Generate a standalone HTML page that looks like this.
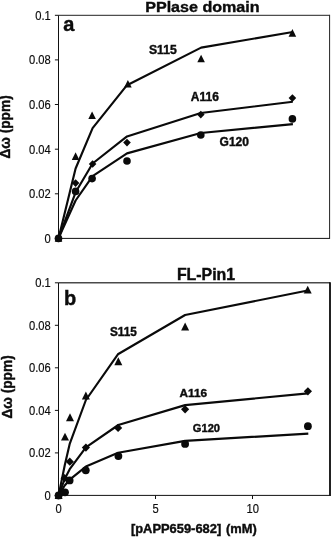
<!DOCTYPE html>
<html><head><meta charset="utf-8"><title>Chart</title>
<style>
html,body{margin:0;padding:0;background:#fff;}
body{width:331px;height:537px;overflow:hidden;font-family:"Liberation Sans",sans-serif;}
svg{display:block;font-family:"Liberation Sans",sans-serif;will-change:transform;}
svg text{fill:#0c0c0c;}
.r{stroke:#0c0c0c;stroke-width:0.15;}
.b{font-weight:bold;stroke:#0c0c0c;stroke-width:0.4;}
.ln polyline{fill:none;stroke:#0a0a0a;stroke-width:2.15;stroke-linejoin:round;stroke-linecap:butt;}
.mk{fill:#0a0a0a;}
</style></head><body>
<svg width="331" height="537" viewBox="0 0 331 537">
<rect width="331" height="537" fill="#fff"/>
<!-- panel a -->
<path d="M58.5,15.3 H329.6" fill="none" stroke="#222" stroke-width="1.0"/>
<path d="M329.6,14.8 V238.9" fill="none" stroke="#222" stroke-width="1.0"/>
<path d="M58.5,15.3 V238.4 H329.6" fill="none" stroke="#111" stroke-width="1"/>
<line x1="54.9" y1="238.4" x2="58.5" y2="238.4" stroke="#111" stroke-width="1"/>
<text class="r" transform="translate(50.8,242.7) scale(1.0,1.08)" text-anchor="end" font-size="11.2">0</text>
<line x1="54.9" y1="193.8" x2="58.5" y2="193.8" stroke="#111" stroke-width="1"/>
<text class="r" transform="translate(50.8,198.1) scale(1.0,1.08)" text-anchor="end" font-size="11.2">0.02</text>
<line x1="54.9" y1="149.2" x2="58.5" y2="149.2" stroke="#111" stroke-width="1"/>
<text class="r" transform="translate(50.8,153.5) scale(1.0,1.08)" text-anchor="end" font-size="11.2">0.04</text>
<line x1="54.9" y1="104.5" x2="58.5" y2="104.5" stroke="#111" stroke-width="1"/>
<text class="r" transform="translate(50.8,108.8) scale(1.0,1.08)" text-anchor="end" font-size="11.2">0.06</text>
<line x1="54.9" y1="59.9" x2="58.5" y2="59.9" stroke="#111" stroke-width="1"/>
<text class="r" transform="translate(50.8,64.2) scale(1.0,1.08)" text-anchor="end" font-size="11.2">0.08</text>
<line x1="54.9" y1="15.3" x2="58.5" y2="15.3" stroke="#111" stroke-width="1"/>
<text class="r" transform="translate(50.8,19.6) scale(1.0,1.08)" text-anchor="end" font-size="11.2">0.1</text>
<text class="b" transform="translate(259.6,11.6) scale(1.0,0.96)" text-anchor="end" font-size="16.1">PPlase domain</text>
<text class="b" transform="translate(63.3,30.6) scale(1.0,0.97)" font-size="20">a</text>
<text class="b" transform="translate(10.0,126.9) rotate(-90) scale(1.0,1.09)" text-anchor="middle" font-size="13.7">Δω (ppm)</text>
<g class="ln"><polyline points="58.5,238.4 75.6,168.5 92.6,128.2 127.0,85.2 201.1,47.6 292.8,32.0"/><polyline points="58.5,238.4 75.6,192.3 92.6,163.5 127.0,136.4 200.8,113.0 292.8,101.7"/><polyline points="58.5,238.4 75.6,200.5 92.6,176.1 127.0,153.4 200.8,133.0 292.9,124.1"/></g>
<g class="mk"><polygon points="58.5,234.2 62.3,241.8 54.7,241.8"/><polygon points="75.6,152.3 79.4,159.9 71.8,159.9"/><polygon points="92.1,111.4 95.9,119.0 88.3,119.0"/><polygon points="127.9,80.0 131.7,87.6 124.1,87.6"/><polygon points="201.1,54.7 204.9,62.3 197.3,62.3"/><polygon points="292.4,29.1 296.2,36.7 288.6,36.7"/><polygon points="58.5,234.6 62.3,238.4 58.5,242.2 54.7,238.4"/><polygon points="75.6,179.3 79.4,183.1 75.6,186.9 71.8,183.1"/><polygon points="92.6,160.2 96.4,164.0 92.6,167.8 88.8,164.0"/><polygon points="127.0,138.8 130.8,142.6 127.0,146.4 123.2,142.6"/><polygon points="200.8,110.8 204.6,114.6 200.8,118.4 197.0,114.6"/><polygon points="292.4,94.3 296.2,98.1 292.4,101.9 288.6,98.1"/><circle cx="58.5" cy="238.4" r="3.8"/><circle cx="75.6" cy="191.4" r="3.8"/><circle cx="92.1" cy="178.6" r="3.8"/><circle cx="127.0" cy="161.0" r="3.8"/><circle cx="200.8" cy="135.0" r="3.8"/><circle cx="292.4" cy="118.9" r="3.8"/></g>
<text class="b" transform="translate(148.9,54.0)" font-size="12.2">S115</text>
<text class="b" transform="translate(190.8,101.0)" font-size="12">A116</text>
<text class="b" transform="translate(219.6,145.6)" font-size="12">G120</text>
<!-- panel b -->
<path d="M58.5,282.8 H330.0" fill="none" stroke="#4a4a4a" stroke-width="1.5"/>
<path d="M330.0,282.3 V495.9" fill="none" stroke="#0a0a0a" stroke-width="1.8"/>
<path d="M58.5,282.8 V495.4 H329.6" fill="none" stroke="#111" stroke-width="1"/>
<line x1="54.9" y1="495.4" x2="58.5" y2="495.4" stroke="#111" stroke-width="1"/>
<text class="r" transform="translate(50.8,499.7) scale(1.0,1.08)" text-anchor="end" font-size="11.2">0</text>
<line x1="54.9" y1="452.9" x2="58.5" y2="452.9" stroke="#111" stroke-width="1"/>
<text class="r" transform="translate(50.8,457.2) scale(1.0,1.08)" text-anchor="end" font-size="11.2">0.02</text>
<line x1="54.9" y1="410.4" x2="58.5" y2="410.4" stroke="#111" stroke-width="1"/>
<text class="r" transform="translate(50.8,414.7) scale(1.0,1.08)" text-anchor="end" font-size="11.2">0.04</text>
<line x1="54.9" y1="367.8" x2="58.5" y2="367.8" stroke="#111" stroke-width="1"/>
<text class="r" transform="translate(50.8,372.1) scale(1.0,1.08)" text-anchor="end" font-size="11.2">0.06</text>
<line x1="54.9" y1="325.3" x2="58.5" y2="325.3" stroke="#111" stroke-width="1"/>
<text class="r" transform="translate(50.8,329.6) scale(1.0,1.08)" text-anchor="end" font-size="11.2">0.08</text>
<line x1="54.9" y1="282.8" x2="58.5" y2="282.8" stroke="#111" stroke-width="1"/>
<text class="r" transform="translate(50.8,287.1) scale(1.0,1.08)" text-anchor="end" font-size="11.2">0.1</text>
<text class="b" transform="translate(206,279.7)" text-anchor="middle" font-size="15.9">FL-Pin1</text>
<text class="b" transform="translate(63.9,305.2) scale(1.0,0.975)" font-size="20">b</text>
<text class="b" transform="translate(11.8,386.9) rotate(-90) scale(1.0,1.09)" text-anchor="middle" font-size="13.7">Δω (ppm)</text>
<line x1="58.5" y1="495.4" x2="58.5" y2="499.0" stroke="#111" stroke-width="1"/>
<text class="r" transform="translate(58.7,512.5) scale(1.0,1.08)" text-anchor="middle" font-size="11.2">0</text>
<line x1="155.5" y1="495.4" x2="155.5" y2="499.0" stroke="#111" stroke-width="1"/>
<text class="r" transform="translate(155.7,512.5) scale(1.0,1.08)" text-anchor="middle" font-size="11.2">5</text>
<line x1="252.5" y1="495.4" x2="252.5" y2="499.0" stroke="#111" stroke-width="1"/>
<text class="r" transform="translate(252.7,512.5) scale(1.0,1.08)" text-anchor="middle" font-size="11.2">10</text>
<text class="b" transform="translate(130.9,533.4) scale(1.0,1.04)" font-size="12.9">[pAPP659-682]</text>
<text class="b" transform="translate(256.7,533.4) scale(1.0,1.04)" text-anchor="end" font-size="12.9">(mM)</text>
<g class="ln"><polyline points="58.6,495.4 64.8,465.0 69.8,443.6 85.9,400.0 117.9,354.3 185.1,315.0 307.7,290.5"/><polyline points="58.6,495.4 64.7,479.0 69.7,469.2 85.9,447.3 118.3,425.0 185.1,405.1 307.9,393.4"/><polyline points="58.6,495.4 64.7,485.5 69.7,479.7 85.9,466.6 118.1,452.7 185.1,440.9 308.3,433.6"/></g>
<g class="mk"><polygon points="58.6,491.1 62.6,499.0 54.6,499.0"/><polygon points="65.0,432.7 69.0,440.6 61.0,440.6"/><polygon points="70.0,413.3 74.0,421.2 66.0,421.2"/><polygon points="85.9,391.5 89.9,399.4 81.9,399.4"/><polygon points="118.3,357.3 122.3,365.2 114.3,365.2"/><polygon points="185.1,322.6 189.1,330.5 181.1,330.5"/><polygon points="307.7,285.7 311.7,293.6 303.7,293.6"/><polygon points="58.6,491.3 62.7,495.4 58.6,499.5 54.5,495.4"/><polygon points="64.6,474.1 68.7,478.2 64.6,482.3 60.5,478.2"/><polygon points="69.8,457.6 73.9,461.7 69.8,465.8 65.7,461.7"/><polygon points="85.9,443.5 90.0,447.6 85.9,451.7 81.8,447.6"/><polygon points="118.1,423.8 122.2,427.9 118.1,432.0 114.0,427.9"/><polygon points="185.1,405.2 189.2,409.3 185.1,413.4 181.0,409.3"/><polygon points="307.9,387.2 312.0,391.3 307.9,395.4 303.8,391.3"/><circle cx="58.6" cy="495.4" r="3.9"/><circle cx="65.0" cy="492.3" r="3.9"/><circle cx="69.6" cy="480.4" r="3.9"/><circle cx="85.8" cy="470.3" r="3.9"/><circle cx="118.4" cy="456.1" r="3.9"/><circle cx="185.1" cy="443.9" r="3.9"/><circle cx="307.9" cy="426.2" r="3.9"/></g>
<text class="b" transform="translate(109.9,336.4) scale(1.0,1.02)" font-size="11.8">S115</text>
<text class="b" transform="translate(179.6,396.8)" font-size="11.8">A116</text>
<text class="b" transform="translate(192.8,432) scale(1.0,1.06)" font-size="11.15">G120</text>
</svg></body></html>
